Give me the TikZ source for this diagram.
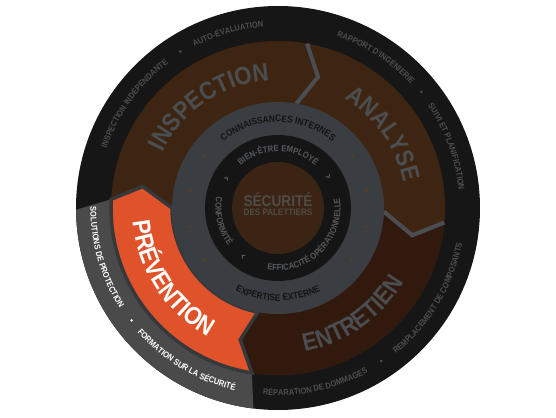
\documentclass[tikz,border=0pt]{standalone}
\usepackage{fontspec}
\setmainfont{Liberation Sans}[FakeStretch=0.88]
\usetikzlibrary{decorations.text}
\definecolor{bandblack}{HTML}{161616}
\definecolor{bandgrey}{HTML}{4A4A4A}
\definecolor{brownA}{HTML}{3E2512}
\definecolor{brownE}{HTML}{32190E}
\definecolor{orangeP}{HTML}{E0522A}
\definecolor{ringgrey}{HTML}{3A3D41}
\definecolor{ringblack}{HTML}{151515}
\definecolor{centerbrown}{HTML}{3B2414}
\definecolor{sepgrey}{HTML}{4A4E52}
\definecolor{outlinegrey}{HTML}{36393C}
\definecolor{txtouter}{HTML}{4E4E4E}
\definecolor{txtbig}{HTML}{4B4E51}
\definecolor{txtring}{HTML}{141414}
\definecolor{txtinner}{HTML}{55585C}
\definecolor{txtcenter}{HTML}{4F4B47}
\definecolor{markbrown}{HTML}{5A3D27}
\newcommand{\fouter}{\fontsize{8.5pt}{10pt}\selectfont\bfseries\color{txtouter}}
\newcommand{\fouterw}{\fontsize{8.5pt}{10pt}\selectfont\bfseries\color{white}}
\newcommand{\fbig}{\fontsize{25pt}{28pt}\selectfont\bfseries\color{txtbig}}
\newcommand{\fbigw}{\fontsize{25pt}{28pt}\selectfont\bfseries\color{white}}
\newcommand{\fring}{\fontsize{9.5pt}{11pt}\selectfont\bfseries\color{txtring}}
\newcommand{\finner}{\fontsize{8.8pt}{10pt}\selectfont\bfseries\color{txtinner}}
\newcommand{\cwtext}[5]{%
  \path[decorate,decoration={text along path,text align=center,text={|#4|#5}}]
    ({#1+#3}:#2pt) arc[start angle={#1+#3}, end angle={#1-#3}, radius=#2pt];}
\newcommand{\ccwtext}[5]{%
  \path[decorate,decoration={text along path,text align=center,text={|#4|#5}}]
    ({#1-#3}:#2pt) arc[start angle={#1-#3}, end angle={#1+#3}, radius=#2pt];}
\tikzset{
  sepline/.style={sepgrey, line width=4pt, line join=miter},
  markline/.style={line width=1pt, line cap=round, line join=round},
  centertext/.style={text=txtcenter, anchor=base, inner sep=0pt}
}
\begin{document}
\begin{tikzpicture}[x=1pt,y=1pt]
\useasboundingbox (-278,-209) rectangle (278,208);
% outer band
\fill[bandblack] (0,0) circle[radius=202pt];
\fill[bandgrey] (177:167pt) -- (180.5:202pt) arc[start angle=180.5,end angle=263,radius=202pt]
  -- (261:167pt) arc[start angle=261,end angle=177,radius=167pt] -- cycle;
% brown ring
\fill[brownA] (0,0) circle[radius=167pt];
\fill[brownE] (-5:167pt) arc[start angle=-5,end angle=-99,radius=167pt] -- (-106:137pt)
  -- (-101:106pt) arc[start angle=-101,end angle=-2,radius=106pt] -- (-11.5:137pt) -- cycle;
\draw[sepline] (80:106pt) -- (73:137pt) -- (80:167pt);
\draw[sepline] (-2:106pt) -- (-11.5:137pt) -- (-5:167pt);
\filldraw[fill=orangeP, draw=outlinegrey, line width=3.5pt, line join=miter]
  (261:167pt) arc[start angle=261,end angle=177,radius=167pt] -- (171:137pt)
  -- (180:106pt) arc[start angle=180,end angle=259,radius=106pt] -- (254:137pt) -- cycle;
% inner rings
\fill[ringgrey] (0,0) circle[radius=106pt];
\fill[ringblack] (0,0) circle[radius=73pt];
\fill[centerbrown] (0,0) circle[radius=46pt];
% outer band texts
\cwtext{106}{181.5}{40}{\fouter}{AUTO-ÉVALUATION}
\cwtext{144}{181.5}{40}{\fouter}{INSPECTION INDÉPENDANTE}
\cwtext{57}{181.5}{40}{\fouter}{RAPPORT D'INGÉNIERIE}
\cwtext{20}{181.5}{40}{\fouter}{SUIVI ET PLANIFICATION}
\ccwtext{-31}{187.5}{40}{\fouter}{REMPLACEMENT DE COMPOSANTS}
\ccwtext{-78}{187.5}{40}{\fouter}{RÉPARATION DE DOMMAGES}
\ccwtext{239}{187.5}{40}{\fouterw}{FORMATION SUR LA SÉCURITÉ}
\ccwtext{196}{187.5}{40}{\fouterw}{SOLUTIONS DE PROTECTION}
\foreach \a in {122,39,-56} \fill[txtouter] (\a:184.5pt) circle[radius=1.4pt];
\fill[white] (217.5:184.5pt) circle[radius=1.4pt];
% big segment texts
\cwtext{124}{128}{60}{\fbig}{INSPECTION}
\cwtext{35}{128}{60}{\fbig}{ANALYSE}
\ccwtext{-55}{146}{60}{\fbig}{ENTRETIEN}
\ccwtext{213.5}{146}{60}{\fbigw}{PRÉVENTION}
% grey ring texts
\cwtext{90}{86}{80}{\fring}{CONNAISSANCES INTERNES}
\ccwtext{270}{93}{80}{\fring}{EXPERTISE EXTERNE}
% black ring texts
\cwtext{90}{56.5}{75}{\finner}{BIEN-ÊTRE EMPLOYÉ}
\ccwtext{193.5}{62.5}{60}{\finner}{CONFORMITÉ}
\ccwtext{314.5}{62.5}{75}{\finner}{EFFICACITÉ OPÉRATIONNELLE}
% small markers
\foreach \a in {35,11,-12,-35,145,169,192,215}
  \draw[markline, markbrown, shift={(\a:90pt)}, rotate=\a-90] (-1.2,2) -- (1.2,0) -- (-1.2,-2);
\foreach \a in {150,234,32}
  \draw[markline, txtinner, shift={(\a:59.5pt)}, rotate=\a-90] (-1.2,2) -- (1.2,0) -- (-1.2,-2);
% centre
\node[centertext, font=\fontsize{15.5pt}{17pt}\selectfont\bfseries] (title) at (0,1) {SÉCURITÉ};
\node[centertext, font=\fontsize{9.2pt}{10pt}\selectfont\bfseries] (sub) at (0,-7.5) {DES PALETTIERS};
\end{tikzpicture}
\end{document}
